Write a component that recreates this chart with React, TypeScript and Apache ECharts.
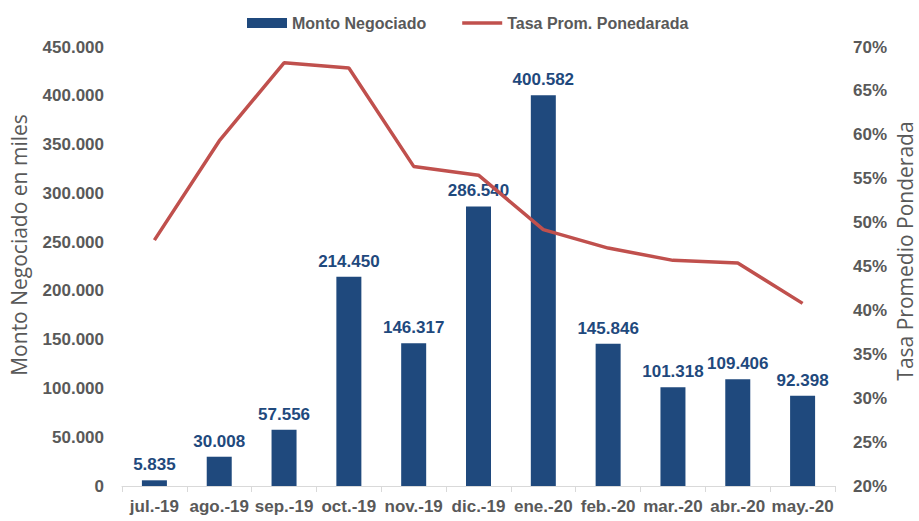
import React, { useEffect, useRef } from "react";
import * as echarts from "echarts";

const categories = ["jul.-19", "ago.-19", "sep.-19", "oct.-19", "nov.-19", "dic.-19", "ene.-20", "feb.-20", "mar.-20", "abr.-20", "may.-20"];
const montoNegociado = [5835, 30008, 57556, 214450, 146317, 286540, 400582, 145846, 101318, 109406, 92398];
const tasaPromedio = [48.0, 59.3, 68.2, 67.6, 56.4, 55.4, 49.2, 47.1, 45.7, 45.4, 40.8];
const leftAxisName = "Monto Negociado en miles";
const rightAxisName = "Tasa Promedio Ponderada";

const fmt = (v: number) => String(Math.round(v)).replace(/\B(?=(\d{3})+(?!\d))/g, ".");

const FONT = "Liberation Sans";
const NAME_FONT = "Open Sans";
const GRAY = "#595959";
const LINE_ICON = "path://M0,0 M0,10 M0,3.25 L40,3.25 L40,6.75 L0,6.75 Z";

export default function App() {
  const ref = useRef<HTMLDivElement>(null);
  useEffect(() => {
    if (!ref.current) return;
    const chart = echarts.init(ref.current, null, { renderer: "svg" });
    chart.setOption({
      animation: false,
      textStyle: { fontFamily: FONT },
      legend: {
        top: 10,
        left: 242,
        itemGap: 36,
        itemWidth: 40,
        itemHeight: 10,
        textStyle: { fontFamily: FONT, fontSize: 16, fontWeight: "bold", color: GRAY },
        data: [
          { name: "Monto Negociado", icon: "rect" },
          { name: "Tasa Prom. Ponedarada", icon: LINE_ICON, itemStyle: { color: "#C0504D" } },
        ],
      },
      grid: { left: 122, right: 84, top: 47, bottom: 35 },
      graphic: [
        {
          type: "text",
          x: 19,
          y: 245,
          rotation: Math.PI / 2,
          style: { text: leftAxisName, fill: GRAY, font: `21px "${NAME_FONT}"`, textAlign: "center", textVerticalAlign: "middle" },
        },
        {
          type: "text",
          x: 905,
          y: 251,
          rotation: Math.PI / 2,
          style: { text: rightAxisName, fill: GRAY, font: `21px "${NAME_FONT}"`, textAlign: "center", textVerticalAlign: "middle" },
        },
      ],
      xAxis: {
        type: "category",
        data: categories,
        axisLine: { lineStyle: { color: "#D9D9D9", width: 1 } },
        axisTick: { show: true, length: 6, lineStyle: { color: "#D9D9D9" } },
        axisLabel: { color: GRAY, fontSize: 17, fontWeight: "bold", fontFamily: FONT, margin: 12, interval: 0 },
      },
      yAxis: [
        {
          type: "value",
          min: 0,
          max: 450000,
          interval: 50000,
          splitLine: { show: false },
          axisLine: { show: false },
          axisTick: { show: false },
          axisLabel: { color: GRAY, fontSize: 17, fontWeight: "bold", fontFamily: FONT, margin: 18, formatter: (v: number) => fmt(v) },
        },
        {
          type: "value",
          min: 20,
          max: 70,
          interval: 5,
          splitLine: { show: false },
          axisLine: { show: false },
          axisTick: { show: false },
          axisLabel: { color: GRAY, fontSize: 17, fontWeight: "bold", fontFamily: FONT, margin: 18, formatter: (v: number) => v + "%" },
        },
      ],
      series: [
        {
          name: "Monto Negociado",
          type: "bar",
          data: montoNegociado,
          barWidth: 25,
          itemStyle: { color: "#1F497D" },
          label: {
            show: true,
            position: "top",
            distance: 7,
            color: "#1F497D",
            fontSize: 17,
            fontWeight: "bold",
            fontFamily: FONT,
            formatter: (p: any) => fmt(p.value),
          },
        },
        {
          name: "Tasa Prom. Ponedarada",
          type: "line",
          yAxisIndex: 1,
          data: tasaPromedio,
          symbol: "none",
          lineStyle: { color: "#C0504D", width: 3.5 },
          itemStyle: { color: "#C0504D" },
        },
      ],
    });
    return () => chart.dispose();
  }, []);
  return <div ref={ref} style={{ width: 919, height: 521, position: "absolute", left: 0, top: 0 }} />;
}
